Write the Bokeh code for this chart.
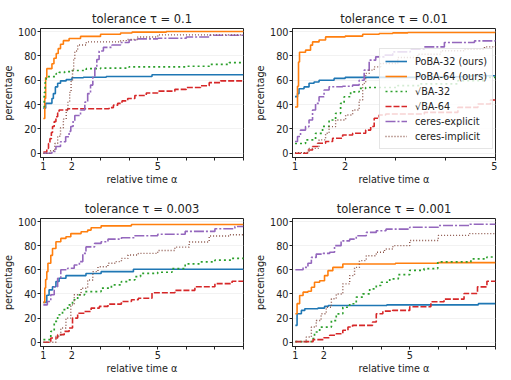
from bokeh.plotting import figure
from bokeh.layouts import column, row
from bokeh.models import FixedTicker, Range1d
from bokeh.embed import file_html
from bokeh.resources import INLINE

# ---------------- data ----------------
series_names = ["PoBA-32 (ours)", "PoBA-64 (ours)", "√BA-32", "√BA-64",
                "ceres-explicit", "ceres-implicit"]
series_colors = ["#1f77b4", "#ff7f0e", "#2ca02c", "#d62728", "#9467bd", "#8c564b"]
series_dashes = ["solid", "solid", "2 3", "6 2", "10 2 2 2", "1 2"]
series_widths = [1.6, 1.6, 1.7, 1.6, 1.6, 1.4]

tolerance_labels = ["0.1", "0.01", "0.003", "0.001"]
x_max = [8, 5, 8, 8]
x_major_ticks = [1, 2, 5]
x_minor_ticks = [[3, 4, 6, 7, 8], [3, 4], [3, 4, 6, 7, 8], [3, 4, 6, 7, 8]]
y_ticks = [0, 20, 40, 60, 80, 100]

# tolerance 0.1
t1_poba32_x = [1, 1.08, 1.3, 1.35, 1.42, 1.5, 1.6, 1.8, 2.0, 2.4, 3.2, 4.8, 8]
t1_poba32_y = [37, 41, 45, 49, 54.5, 57.5, 59.5, 60.5, 62, 62.5, 63, 64.5, 64.5]
t1_poba64_x = [1, 1.05, 1.08, 1.12, 1.3, 1.37, 1.45, 1.52, 1.6, 1.7, 1.9, 2.3, 3.0, 3.7, 4.1, 5.3, 8]
t1_poba64_y = [28.5, 45, 62, 69.5, 73.5, 78, 82, 86, 89.5, 92.5, 94.3, 96, 97.8, 98.8, 99.5, 100, 100]
t1_sqrt32_x = [1, 1.03, 1.06, 1.1, 1.45, 1.55, 1.75, 2.0, 2.5, 3.0, 4.0, 5.0, 6.0, 6.8, 7.5, 8]
t1_sqrt32_y = [38, 50, 58, 63, 65.5, 66.5, 67, 68, 69.5, 70, 71, 71, 71.5, 73, 74.5, 74.5]
t1_sqrt64_x = [1, 1.12, 1.18, 1.23, 1.28, 1.32, 1.38, 1.44, 1.5, 1.55, 1.85, 3.3, 3.45, 3.6,
               3.75, 3.95, 4.2, 4.6, 5.0, 5.6, 6.0, 6.5, 6.8, 7.2, 8]
t1_sqrt64_y = [1, 4, 8, 12, 17, 22, 26, 30, 33, 35.5, 36.5, 37.5, 39.5, 41,
               43, 45, 47.5, 49.5, 51, 52.5, 54, 55.5, 58, 59.5, 59.5]
t1_cexp_x = [1, 1.3, 1.44, 1.6, 1.78, 1.9, 1.96, 2.04, 2.1, 2.3, 2.45, 2.55, 2.65, 2.73, 2.8,
             2.87, 2.95, 3.1, 3.4, 3.7, 4.0, 4.3, 5.0, 6.0, 6.8, 8]
t1_cexp_y = [0, 1.5, 5.5, 9.5, 13.5, 18, 22, 27, 31, 35.5, 42, 49, 56, 63, 70,
             77, 84, 87, 89, 91, 93, 94, 94.5, 95.5, 97, 97]
t1_cimp_x = [1, 1.25, 1.4, 1.5, 1.6, 1.7, 1.8, 1.86, 1.92, 1.97, 2.02, 2.06, 2.1, 2.2, 2.5,
             3.7, 3.9, 4.3, 5.0, 8]
t1_cimp_y = [0, 2, 8, 14, 21, 28, 35, 42, 50, 59, 68, 77, 84, 89, 91.5,
             92.5, 93.5, 95.5, 97.3, 97.3]

# tolerance 0.01
t2_poba32_x = [1, 1.05, 1.08, 1.18, 1.28, 1.38, 1.48, 1.78, 2.0, 3.5, 4.5, 5]
t2_poba32_y = [46.5, 49, 53, 54.5, 57.5, 58.5, 60, 61.5, 62.3, 62.8, 63.7, 63.7]
t2_poba64_x = [1, 1.05, 1.07, 1.09, 1.21, 1.31, 1.35, 1.48, 1.61, 2.0, 2.35, 2.68, 2.95, 3.25, 5]
t2_poba64_y = [38, 55, 75, 83, 84.7, 88.8, 91.5, 93, 95.6, 96.2, 97.8, 98.4, 98.9, 99.2, 99.2]
t2_sqrt32_x = [1, 1.21, 1.41, 1.55, 1.68, 1.81, 1.91, 1.98, 2.11, 2.28, 2.41, 3.05, 3.5, 4.25, 4.8, 5]
t2_sqrt32_y = [8, 11, 16.4, 22, 27.3, 32.8, 41, 46.4, 50.5, 53.3, 54, 55.5, 57, 59.6, 62.3, 62.3]
t2_sqrt64_x = [1, 1.25, 1.35, 1.45, 1.61, 1.75, 1.95, 2.15, 2.41, 2.51, 2.58, 2.68, 2.81, 3.58,
               4.25, 4.65, 4.9, 5]
t2_sqrt64_y = [0, 2.7, 5.5, 8.2, 9.6, 12.3, 15, 16.4, 19, 22, 28.7, 31.4, 32.2, 33.6,
               37.7, 40.4, 43.7, 43.7]
t2_cexp_x = [1, 1.05, 1.11, 1.21, 1.28, 1.35, 1.41, 1.48, 1.58, 1.68, 1.95, 2.15, 2.28, 2.38,
             2.48, 2.61, 2.78, 2.95, 3.3, 3.58, 3.98, 4.58, 5]
t2_cexp_y = [9.6, 13.7, 19, 21.9, 27.3, 35.5, 41, 46.4, 52, 54.6, 55, 56, 60, 68.3,
             76.5, 79.2, 80.6, 83.3, 85.5, 87.4, 91, 92.3, 93]
t2_cimp_x = [1, 1.28, 1.48, 1.61, 1.68, 1.81, 2.01, 2.15, 2.28, 2.35, 2.41, 2.48, 2.58, 2.71,
             3.05, 3.45, 3.91, 4.38, 4.78, 5]
t2_cimp_y = [0.5, 4, 11, 16.4, 21.9, 27.3, 31.4, 35.5, 43.7, 57.4, 65.6, 68.3, 71, 73.8,
             78.7, 81.4, 84.2, 85.5, 87.4, 88]

# tolerance 0.003
t3_poba32_x = [1, 1.12, 1.2, 1.32, 1.44, 1.55, 1.79, 2.49, 3.02, 4.15, 8]
t3_poba32_y = [33, 39, 43.4, 46, 50.3, 53, 55.2, 57, 58.5, 60.5, 60.5]
t3_poba64_x = [1, 1.05, 1.08, 1.12, 1.16, 1.26, 1.32, 1.44, 1.61, 1.79, 1.96, 2.32, 2.55, 2.67,
               3.02, 4.08, 8]
t3_poba64_y = [33, 45, 52, 58.5, 65.4, 72, 77.7, 83.2, 86, 87.4, 90, 91.5, 92.9, 94.8,
               96.4, 97.5, 97.5]
t3_sqrt32_x = [1, 1.26, 1.38, 1.5, 1.67, 1.85, 2.02, 2.2, 2.44, 3.02, 3.38, 3.73, 3.96, 4.2,
               4.4, 5.0, 5.5, 5.96, 6.5, 7.0, 7.6, 8]
t3_sqrt32_y = [2.2, 9, 17.3, 22.8, 27, 31, 35.2, 39.3, 42, 44.8, 47.5, 50.3, 51.6, 54.4,
               57, 58, 61, 65, 66.5, 68, 69.5, 70]
t3_sqrt64_x = [1, 1.26, 1.5, 1.73, 1.9, 2.02, 2.2, 2.44, 2.67, 2.96, 3.26, 3.73, 4.08, 4.32,
               4.8, 5.6, 6.3, 7.0, 7.6, 8]
t3_sqrt64_y = [0, 3.6, 6.3, 9, 11.8, 20, 24, 25.5, 28.3, 29.7, 31.6, 33.8, 35.2, 36.5,
               41, 43, 46, 48.6, 50.5, 50.5]
t3_cexp_x = [1, 1.14, 1.26, 1.38, 1.5, 1.61, 1.85, 2.08, 2.26, 2.38, 2.49, 2.79, 3.02, 3.26,
             3.73, 4.2, 5.0, 5.96, 7.0, 7.7, 8]
t3_cexp_y = [31, 33.8, 39.3, 46, 53, 60, 61.3, 64, 66.8, 73.6, 79, 81.9, 83.2, 85.4,
             86.5, 88.2, 89.5, 91.8, 94, 95.9, 95.9]
t3_cimp_x = [1, 1.44, 1.61, 1.79, 1.96, 2.08, 2.32, 2.55, 2.73, 2.91, 3.26, 3.5, 3.73, 3.96,
             4.32, 5.0, 5.6, 6.1, 6.8, 7.5, 8]
t3_cimp_y = [0, 5, 11.8, 20, 31, 39.3, 44.8, 51.6, 58.5, 62.6, 65.4, 66.8, 69.5, 72.3,
             73.6, 76, 78.8, 83, 88, 89, 89]

# tolerance 0.001
t4_poba32_x = [1, 1.06, 1.21, 1.33, 1.79, 2.02, 2.15, 4.2, 7.4, 8]
t4_poba32_y = [14, 23.6, 26.4, 27.7, 28.3, 29.7, 30.5, 31, 32, 32]
t4_poba64_x = [1, 1.06, 1.15, 1.27, 1.44, 1.56, 1.67, 1.85, 2.02, 2.14, 2.31, 2.66, 4.5, 6.0, 8]
t4_poba64_y = [23.6, 32, 38.7, 41.5, 42.3, 45.6, 49.7, 51, 55.2, 59.3, 62, 64.8, 65.5, 66, 66]
t4_sqrt32_x = [1, 1.56, 1.67, 1.85, 2.26, 2.43, 2.66, 2.9, 3.13, 3.36, 3.6, 3.83, 4.0, 4.3,
               4.6, 5.0, 5.5, 5.98, 7.14, 7.7, 8]
t4_sqrt32_y = [0.5, 3, 8.5, 12.6, 18, 23.6, 29, 31.9, 37.4, 40, 44.2, 47, 49.7, 52.5,
               56, 59.6, 61, 66.5, 69, 70.6, 70.6]
t4_sqrt64_x = [1, 1.62, 1.97, 2.2, 2.43, 2.66, 2.84, 3.0, 3.7, 3.83, 4.06, 4.4, 5.0, 5.74,
               6.2, 6.9, 7.37, 7.7, 8]
t4_sqrt64_y = [0.5, 2.2, 3.8, 5.8, 7, 9.9, 12.6, 14, 16.8, 23.6, 25.8, 26.4, 29.4, 33.5,
               35.7, 40.4, 45.9, 50.5, 50.8]
t4_cexp_x = [1, 1.27, 1.44, 1.56, 1.73, 1.97, 2.2, 2.37, 2.6, 2.9, 3.13, 3.48, 3.83, 4.17,
             5.0, 6.0, 7.1, 8]
t4_cexp_y = [60, 62, 65.4, 70.3, 73, 73.6, 74.5, 80, 84, 85.4, 88.2, 91, 92.3, 93.7,
             95.3, 96.7, 97.8, 98]
t4_cimp_x = [1, 1.38, 1.56, 1.73, 1.9, 2.08, 2.26, 2.43, 2.66, 2.9, 3.07, 3.24, 3.48, 3.83,
             4.12, 4.41, 5.0, 6.0, 7.1, 8]
t4_cimp_y = [0.5, 4.4, 12.6, 18, 23.6, 29, 36, 40, 48.4, 55.2, 62, 67.6, 71.7, 74.5,
             77.2, 80, 84.3, 88.5, 90, 90.7]

panel_series = [
    [(t1_poba32_x, t1_poba32_y), (t1_poba64_x, t1_poba64_y), (t1_sqrt32_x, t1_sqrt32_y),
     (t1_sqrt64_x, t1_sqrt64_y), (t1_cexp_x, t1_cexp_y), (t1_cimp_x, t1_cimp_y)],
    [(t2_poba32_x, t2_poba32_y), (t2_poba64_x, t2_poba64_y), (t2_sqrt32_x, t2_sqrt32_y),
     (t2_sqrt64_x, t2_sqrt64_y), (t2_cexp_x, t2_cexp_y), (t2_cimp_x, t2_cimp_y)],
    [(t3_poba32_x, t3_poba32_y), (t3_poba64_x, t3_poba64_y), (t3_sqrt32_x, t3_sqrt32_y),
     (t3_sqrt64_x, t3_sqrt64_y), (t3_cexp_x, t3_cexp_y), (t3_cimp_x, t3_cimp_y)],
    [(t4_poba32_x, t4_poba32_y), (t4_poba64_x, t4_poba64_y), (t4_sqrt32_x, t4_sqrt32_y),
     (t4_sqrt64_x, t4_sqrt64_y), (t4_cexp_x, t4_cexp_y), (t4_cimp_x, t4_cimp_y)],
]

# ---------------- styling ----------------
FONT = "DejaVu Sans"
INK = "#222222"
FRAME_W = 203


def make_panel(i, frame_h, top_border, right_border):
    xmax = x_max[i]
    xmin = 0.9 if xmax > 5 else 0.95
    p = figure(frame_width=FRAME_W, frame_height=frame_h,
               x_range=Range1d(xmin, xmax), y_range=Range1d(-3.5, 102.5),
               output_backend="svg", toolbar_location=None,
               min_border_left=0, min_border_right=right_border,
               min_border_top=top_border, min_border_bottom=0,
               title="tolerance τ = " + tolerance_labels[i])
    p.title.text_font = FONT
    p.title.text_font_size = "11.5px"
    p.title.text_font_style = "normal"
    p.title.align = "center"
    p.title.text_color = INK
    p.title.standoff = 5
    p.title.offset = 0

    p.outline_line_color = INK
    p.outline_line_width = 1
    p.background_fill_color = "white"
    p.border_fill_color = "white"

    p.xgrid.grid_line_color = None
    p.ygrid.grid_line_color = "#efefef"
    p.ygrid.grid_line_width = 0.8

    for ax in (p.xaxis[0], p.yaxis[0]):
        ax.axis_line_color = INK
        ax.major_tick_line_color = INK
        ax.minor_tick_line_color = INK
        ax.major_tick_in = 0
        ax.major_tick_out = 3
        ax.minor_tick_in = 0
        ax.minor_tick_out = 3
        ax.major_label_text_font = FONT
        ax.major_label_text_font_size = "9.7px"
        ax.major_label_text_color = INK
        ax.major_label_standoff = 1
        ax.axis_label_text_font = FONT
        ax.axis_label_text_font_size = "9.7px"
        ax.axis_label_text_font_style = "normal"
        ax.axis_label_text_color = INK
        ax.axis_label_standoff = 1

    p.xaxis.ticker = FixedTicker(ticks=x_major_ticks, minor_ticks=x_minor_ticks[i])
    p.yaxis.ticker = FixedTicker(ticks=y_ticks, minor_ticks=[])
    p.xaxis.axis_label = "relative time α"
    p.yaxis.axis_label = "percentage"

    for k, (xs, ys) in enumerate(panel_series[i]):
        kw = dict(mode="after", line_color=series_colors[k], line_width=series_widths[k],
                  line_dash=series_dashes[k])
        if i == 1:
            kw["legend_label"] = series_names[k]
        p.step(xs, ys, **kw)

    if i == 1:
        lg = p.legend[0]
        lg.location = (FRAME_W - 116, 8)
        lg.margin = 0
        lg.padding = 5
        lg.spacing = 1
        lg.label_text_font = FONT
        lg.label_text_font_size = "9.7px"
        lg.label_text_color = INK
        lg.label_height = 14
        lg.glyph_height = 14
        lg.glyph_width = 22
        lg.label_standoff = 8
        lg.border_line_color = "#cccccc"
        lg.border_line_width = 1
        lg.background_fill_alpha = 0.8
    return p


p1 = make_panel(0, 129, 28, 9)
p2 = make_panel(1, 129, 28, 2)
p3 = make_panel(2, 128, 31, 9)
p4 = make_panel(3, 128, 31, 2)

layout = column(row(p1, p2), row(p3, p4))

open("out.html", "w").write(file_html(layout, INLINE))
